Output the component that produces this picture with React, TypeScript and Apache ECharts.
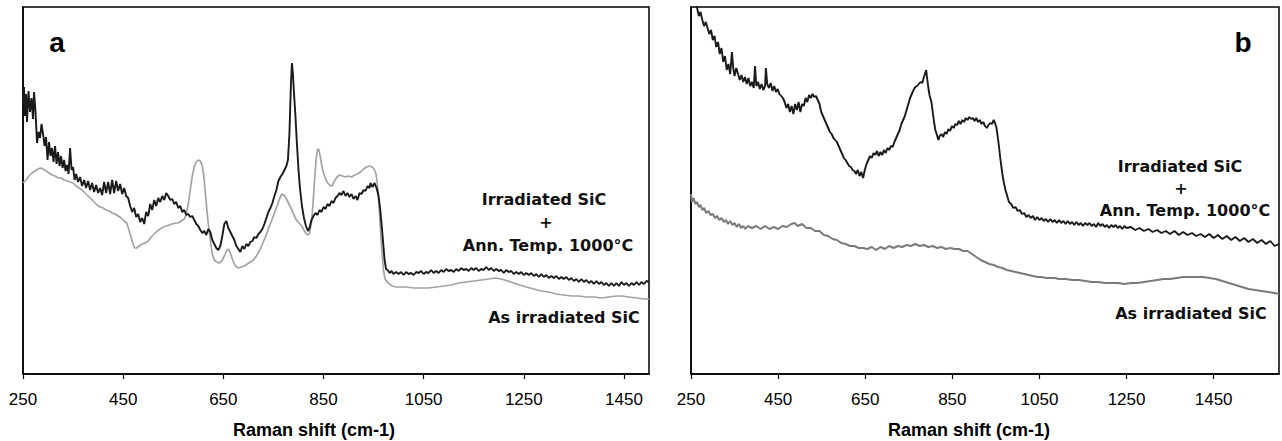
import React, { useEffect, useRef } from "react";
import * as echarts from "echarts";

// Raman shift (cm-1) vs intensity (arbitrary units)
const tickValues = [250, 450, 650, 850, 1050, 1250, 1450];

// Panel a — Irradiated SiC + annealed 1000°C
const aAnnealed: [number, number][] = [[250,270],[252,287],[254,258],[256,280],[258,252],[261,283],[264,262],[267,276],[270,255],[272,282],[275,262],[278,231],[281,242],[284,236],[287,250],[290,240],[293,228],[296,237],[299,214],[302,232],[305,218],[308,226],[311,212],[314,228],[317,210],[320,222],[323,208],[326,218],[329,206],[332,214],[335,203],[338,209],[341,200],[344,226],[347,204],[350,207],[353,194],[356,200],[360,192],[364,197],[368,188],[372,194],[376,186],[380,193],[384,184],[388,191],[392,182],[396,189],[400,181],[404,186],[408,179],[412,192],[416,181],[420,192],[424,180],[428,194],[432,181],[436,193],[440,183],[444,190],[448,180],[452,186],[456,178],[460,176],[464,168],[468,162],[472,166],[476,157],[480,160],[484,152],[488,156],[492,150],[496,162],[500,158],[504,170],[508,164],[512,174],[516,168],[520,176],[524,172],[528,178],[532,174],[536,181],[540,178],[544,174],[548,175],[552,170],[556,172],[560,166],[564,168],[568,162],[572,164],[576,159],[580,160],[584,157],[588,158],[592,154],[596,150],[600,148],[604,144],[608,141],[612,143],[616,139],[620,145],[624,142],[628,134],[632,130],[636,126],[640,124],[644,128],[648,138],[652,150],[656,153],[660,146],[664,142],[668,138],[672,134],[676,128],[680,125],[684,122],[688,128],[692,125],[696,130],[700,128],[704,132],[708,133],[712,137],[716,136],[720,140],[724,142],[728,145],[732,150],[736,156],[740,162],[744,166],[748,171],[752,178],[756,184],[760,193],[764,197],[768,200],[772,204],[776,208],[779,214],[782,240],[785,290],[787,311],[789,300],[791,282],[794,258],[797,230],[800,205],[803,186],[807,168],[811,156],[815,148],[819,143],[822,146],[826,154],[830,158],[834,161],[838,159],[842,164],[846,162],[850,167],[854,165],[858,170],[862,168],[866,173],[870,171],[874,176],[878,178],[882,181],[886,179],[890,183],[894,178],[898,181],[902,177],[906,180],[910,175],[914,178],[918,174],[922,181],[926,180],[930,184],[934,183],[938,188],[942,186],[944,191],[948,187],[952,191],[956,186],[960,178],[963,166],[966,150],[969,132],[972,114],[975,105],[978,104],[982,101],[986,103],[990,100],[995,102],[1000,100],[1005,102],[1010,99],[1015,102],[1020,100],[1025,101],[1030,99],[1035,102],[1040,101],[1045,103],[1050,100],[1055,102],[1060,101],[1065,104],[1070,101],[1075,103],[1080,101],[1085,104],[1090,102],[1095,105],[1100,103],[1105,104],[1110,102],[1115,105],[1120,103],[1125,106],[1130,104],[1135,105],[1140,103],[1145,106],[1150,104],[1155,106],[1160,103],[1165,105],[1170,104],[1175,107],[1180,104],[1185,106],[1190,103],[1195,105],[1200,103],[1205,104],[1210,101],[1215,104],[1220,102],[1225,103],[1230,100],[1235,102],[1240,100],[1245,102],[1250,99],[1255,101],[1260,99],[1265,101],[1270,98],[1275,100],[1280,97],[1285,100],[1290,97],[1295,99],[1300,96],[1305,98],[1310,96],[1315,98],[1320,95],[1325,97],[1330,95],[1335,97],[1340,94],[1345,96],[1350,93],[1355,95],[1360,92],[1365,95],[1370,92],[1375,94],[1380,91],[1385,93],[1390,90],[1395,93],[1400,90],[1405,92],[1410,89],[1415,91],[1420,88],[1425,91],[1430,88],[1435,91],[1440,88],[1445,92],[1450,89],[1455,91],[1460,88],[1465,91],[1470,89],[1475,92],[1480,89],[1485,92],[1490,90],[1495,93],[1500,92]];

// Panel a — As irradiated SiC
const aIrradiated: [number, number][] = [[250,191],[256,194],[262,198],[268,201],[274,203],[280,205],[285,206],[290,205],[296,203],[302,201],[308,199],[314,198],[320,196],[326,196],[332,194],[338,193],[344,192],[350,191],[356,188],[362,186],[368,184],[374,181],[380,178],[386,175],[392,172],[398,169],[404,167],[410,166],[416,164],[422,163],[428,161],[434,160],[440,158],[446,156],[452,153],[457,151],[461,145],[465,138],[469,131],[473,126],[477,126],[482,128],[488,130],[494,131],[500,133],[506,137],[512,140],[518,143],[524,145],[530,147],[536,148],[542,149],[548,150],[554,151],[560,151],[566,153],[572,155],[576,160],[580,170],[584,184],[588,198],[592,207],[596,212],[600,214],[604,213],[608,208],[611,198],[614,182],[617,165],[620,150],[624,134],[628,120],[632,114],[637,112],[642,111],[647,113],[652,118],[656,123],[660,125],[664,121],[668,115],[672,110],[676,107],[681,106],[686,107],[692,108],[698,110],[704,112],[710,114],[716,118],[722,123],[728,130],[734,137],[740,145],[746,153],[752,161],[758,169],[763,176],[767,180],[771,179],[775,176],[779,172],[783,168],[787,164],[791,159],[795,155],[799,152],[803,150],[808,147],[813,142],[818,139],[822,140],[826,152],[829,170],[832,192],[835,213],[838,225],[841,224],[844,216],[848,205],[852,198],[857,192],[862,189],[867,188],[872,193],[877,197],[882,199],[888,198],[894,197],[900,198],[906,197],[912,199],[918,200],[924,202],[930,205],[936,207],[942,208],[947,207],[951,205],[955,200],[958,188],[961,168],[964,142],[967,120],[970,103],[973,95],[977,92],[982,90],[988,88],[995,87],[1003,87],[1015,87],[1030,86],[1045,86],[1060,86],[1075,87],[1090,88],[1105,89],[1120,91],[1135,92],[1150,93],[1165,94],[1180,95],[1192,96],[1205,95],[1218,93],[1230,91],[1242,89],[1255,87],[1270,85],[1285,83],[1300,82],[1315,80],[1330,79],[1345,78],[1360,78],[1375,77],[1390,77],[1405,76],[1420,77],[1435,78],[1445,78],[1460,77],[1475,76],[1490,75],[1500,75]];

// Panel b — Irradiated SiC + annealed 1000°C
const bAnnealed: [number, number][] = [[250,395],[256,382],[260,372],[264,366],[268,358],[272,362],[276,354],[280,348],[284,352],[288,346],[292,340],[296,344],[300,334],[304,338],[308,327],[312,332],[316,320],[320,326],[324,312],[328,318],[332,304],[336,310],[340,300],[344,322],[347,306],[350,298],[354,306],[358,300],[362,294],[366,299],[370,292],[374,297],[378,290],[382,296],[386,288],[390,292],[394,286],[397,308],[400,288],[404,292],[408,285],[412,290],[416,284],[420,288],[422,306],[425,290],[429,286],[433,291],[437,283],[441,288],[445,282],[449,285],[453,280],[457,278],[461,276],[465,272],[469,266],[473,270],[477,262],[481,268],[485,260],[489,270],[493,264],[497,272],[501,262],[505,270],[509,268],[513,276],[517,272],[521,279],[525,276],[529,280],[533,277],[537,278],[541,274],[545,270],[549,262],[553,258],[557,254],[561,250],[565,246],[569,242],[573,240],[577,236],[581,234],[585,232],[589,228],[593,224],[597,220],[601,216],[605,214],[609,211],[613,208],[617,207],[621,204],[625,203],[629,200],[633,204],[637,198],[641,202],[645,196],[649,204],[653,210],[657,214],[661,218],[665,216],[669,221],[673,219],[677,223],[681,218],[685,222],[689,219],[693,224],[697,221],[701,226],[705,224],[709,228],[713,227],[717,232],[721,236],[725,240],[729,244],[733,250],[737,254],[741,258],[745,264],[749,270],[753,276],[757,280],[761,284],[765,287],[769,288],[773,290],[777,292],[781,291],[784,296],[787,300],[790,304],[792,296],[795,286],[798,278],[802,272],[805,262],[808,252],[811,244],[814,240],[818,234],[821,238],[825,240],[829,237],[833,242],[837,240],[841,245],[845,243],[849,248],[853,246],[857,250],[861,249],[865,253],[869,250],[873,254],[877,252],[881,256],[885,254],[889,257],[893,255],[897,256],[901,253],[905,256],[909,252],[913,254],[917,250],[921,252],[925,248],[929,246],[933,249],[937,251],[941,250],[945,254],[948,251],[951,247],[954,238],[957,228],[960,216],[963,206],[966,197],[969,190],[972,184],[976,178],[980,172],[985,170],[990,166],[995,167],[1000,163],[1005,164],[1010,160],[1015,161],[1020,157],[1025,159],[1030,156],[1035,158],[1040,154],[1045,157],[1050,154],[1055,156],[1060,153],[1065,155],[1070,152],[1075,155],[1080,152],[1085,154],[1090,151],[1095,154],[1100,151],[1105,153],[1110,150],[1115,153],[1120,150],[1125,152],[1130,149],[1135,152],[1140,149],[1145,151],[1150,148],[1155,151],[1160,149],[1165,151],[1170,148],[1175,150],[1180,147],[1185,151],[1190,148],[1195,150],[1200,147],[1205,149],[1210,146],[1215,149],[1220,147],[1225,149],[1230,146],[1235,148],[1240,145],[1245,148],[1250,146],[1260,147],[1270,144],[1280,146],[1290,143],[1300,145],[1310,142],[1320,144],[1330,141],[1340,143],[1350,140],[1360,143],[1370,139],[1380,142],[1390,139],[1400,141],[1410,138],[1420,140],[1430,137],[1440,140],[1450,136],[1460,139],[1470,135],[1480,138],[1490,134],[1500,137],[1510,133],[1520,136],[1530,132],[1540,135],[1550,131],[1560,134],[1570,130],[1580,133],[1590,128],[1600,130]];

// Panel b — As irradiated SiC
const bIrradiated: [number, number][] = [[250,180],[252,172],[256,176],[260,170],[264,172],[268,167],[272,169],[276,164],[280,166],[285,161],[290,163],[295,159],[300,160],[305,156],[310,158],[315,154],[320,156],[325,152],[330,154],[335,150],[340,153],[345,149],[350,151],[355,147],[360,150],[365,146],[370,148],[375,145],[380,148],[390,146],[400,148],[410,145],[420,148],[430,145],[440,147],[450,145],[460,148],[470,147],[480,150],[488,151],[495,148],[505,150],[515,146],[525,146],[535,143],[545,143],[555,139],[565,138],[575,135],[585,134],[595,131],[605,130],[615,128],[625,128],[635,126],[645,126],[655,125],[665,127],[675,124],[685,127],[695,125],[705,128],[715,126],[725,128],[735,127],[745,129],[755,128],[765,130],[775,128],[785,129],[795,127],[805,128],[815,126],[825,127],[835,125],[845,126],[855,125],[865,125],[875,123],[885,123],[895,120],[905,117],[915,114],[925,112],[935,110],[945,109],[955,107],[965,106],[975,104],[985,103],[995,102],[1005,101],[1015,100],[1025,99],[1035,98],[1045,97],[1055,97],[1065,96],[1075,96],[1085,96],[1095,95],[1110,95],[1125,94],[1140,94],[1155,93],[1170,92],[1185,92],[1200,91],[1215,91],[1230,91],[1245,90],[1260,91],[1275,91],[1290,92],[1305,93],[1320,94],[1335,95],[1350,95],[1365,96],[1380,97],[1395,97],[1410,97],[1425,97],[1440,96],[1455,95],[1470,93],[1485,91],[1500,89],[1515,87],[1530,85],[1545,84],[1560,83],[1575,82],[1590,81],[1600,80]];

const axisTitle = "Raman shift (cm-1)";
const labelTop = "Irradiated SiC";
const labelPlus = "+";
const labelAnn = "Ann. Temp. 1000°C";
const labelBottom = "As irradiated SiC";

const FONT = "'Liberation Sans', Arial, sans-serif";
const ANN_FONT = "'DejaVu Sans', 'Open Sans', sans-serif";

function xAxisFor(gridIndex: number, max: number) {
  return {
    type: "value",
    gridIndex,
    min: 250,
    max,
    splitLine: { show: false },
    axisLine: { show: true, lineStyle: { color: "#000", width: 1.5 } },
    axisTick: {
      show: true,
      inside: false,
      length: 5,
      lineStyle: { color: "#000", width: 1.2 },
      customValues: tickValues,
    },
    axisLabel: {
      show: true,
      margin: 17,
      color: "#000",
      fontSize: 17,
      fontFamily: FONT,
      customValues: tickValues,
      formatter: (v: number) => String(Math.round(v)),
    },
  };
}

function yAxisFor(gridIndex: number) {
  return {
    type: "value",
    gridIndex,
    min: 0,
    max: 367,
    axisLine: { show: true, lineStyle: { color: "#000", width: 1.5 } },
    axisTick: { show: false },
    axisLabel: { show: false },
    splitLine: { show: false },
  };
}

function textEl(text: string, x: number, y: number, size: number, family: string, weight: string | number, fill = "#111") {
  return {
    type: "text",
    x,
    y,
    silent: true,
    style: {
      text,
      fill,
      fontSize: size,
      fontFamily: family,
      fontWeight: weight,
      align: "center",
      verticalAlign: "middle",
    },
  };
}

export default function App() {
  const ref = useRef<HTMLDivElement>(null);

  useEffect(() => {
    document.body.style.margin = "0";
    if (!ref.current) return;
    const chart = echarts.init(ref.current, undefined, { renderer: "svg" });
    chart.setOption({
      animation: false,
      backgroundColor: "#fff",
      grid: [
        { left: 23, top: 7, width: 626, height: 367, show: true, borderColor: "#000", borderWidth: 1.5, backgroundColor: "transparent" },
        { left: 691, top: 7, width: 588, height: 367, show: true, borderColor: "#000", borderWidth: 1.5, backgroundColor: "transparent" },
      ],
      xAxis: [xAxisFor(0, 1500), xAxisFor(1, 1600)],
      yAxis: [yAxisFor(0), yAxisFor(1)],
      series: [
        { type: "line", name: "a-irr", xAxisIndex: 0, yAxisIndex: 0, data: aIrradiated, showSymbol: false, clip: true, lineStyle: { color: "#a3a3a3", width: 1.7 } },
        { type: "line", name: "a-ann", xAxisIndex: 0, yAxisIndex: 0, data: aAnnealed, showSymbol: false, clip: true, lineStyle: { color: "#1a1a1a", width: 1.9 } },
        { type: "line", name: "b-irr", xAxisIndex: 1, yAxisIndex: 1, data: bIrradiated, showSymbol: false, clip: true, lineStyle: { color: "#7a7a7a", width: 2 } },
        { type: "line", name: "b-ann", xAxisIndex: 1, yAxisIndex: 1, data: bAnnealed, showSymbol: false, clip: true, lineStyle: { color: "#1a1a1a", width: 1.9 } },
      ],
      graphic: [
        textEl("a", 57, 42, 28, FONT, "bold", "#000"),
        textEl("b", 1243, 42, 28, FONT, "bold", "#000"),
        textEl(axisTitle, 314, 430, 18, FONT, "bold", "#000"),
        textEl(axisTitle, 969, 430, 18, FONT, "bold", "#000"),
        textEl(labelTop, 544, 199, 16, ANN_FONT, "bold"),
        textEl(labelPlus, 546, 222, 16, ANN_FONT, "bold"),
        textEl(labelAnn, 548, 245, 16, ANN_FONT, "bold"),
        textEl(labelBottom, 564, 317, 16, ANN_FONT, "bold"),
        textEl(labelTop, 1180, 166, 16, ANN_FONT, "bold"),
        textEl(labelPlus, 1181, 188, 16, ANN_FONT, "bold"),
        textEl(labelAnn, 1185, 210, 16, ANN_FONT, "bold"),
        textEl(labelBottom, 1191, 313, 16, ANN_FONT, "bold"),
      ],
    });
    return () => chart.dispose();
  }, []);

  return <div ref={ref} style={{ width: 1282, height: 441 }} />;
}
